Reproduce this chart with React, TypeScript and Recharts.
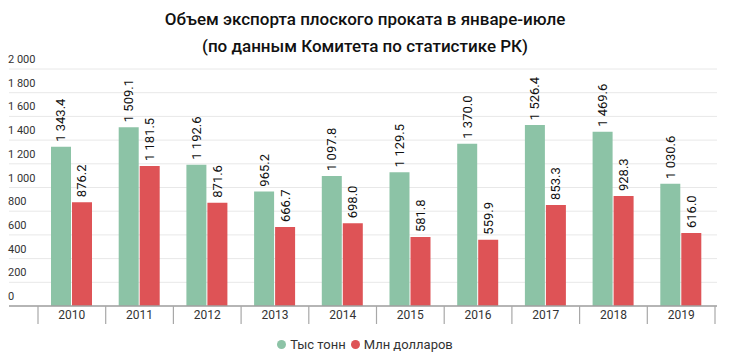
import React from 'react';
import { BarChart, Bar, XAxis, YAxis, CartesianGrid, LabelList } from 'recharts';

const years = ['2010', '2011', '2012', '2013', '2014', '2015', '2016', '2017', '2018', '2019'];
const thousandTonnes = [1343.4, 1509.1, 1192.6, 965.2, 1097.8, 1129.5, 1370.0, 1526.4, 1469.6, 1030.6];
const millionUsd = [876.2, 1181.5, 871.6, 666.7, 698.0, 581.8, 559.9, 853.3, 928.3, 616.0];
const yTicks = [0, 200, 400, 600, 800, 1000, 1200, 1400, 1600, 1800, 2000];
const seriesNames = ['Тыс тонн', 'Млн долларов'];
const titleLines = ['Объем экспорта плоского проката в январе-июле', '(по данным Комитета по статистике РК)'];

const GREEN = '#8cc3a6';
const RED = '#de5356';
const FONT = 'Roboto, "Noto Sans", sans-serif';

const data = years.map((y, i) => ({ year: y, t: thousandTonnes[i], m: millionUsd[i] }));

const fmtInt = (v: number) => String(v).replace(/\B(?=(\d{3})+(?!\d))/g, ' ');
const fmtVal = (v: number) => {
  const [a, b] = v.toFixed(1).split('.');
  return fmtInt(Number(a)) + '.' + b;
};

const YTick = (props: any) => {
  const { y, payload } = props;
  return (
    <text x={8} y={y - 6} textAnchor="start" fontSize={11} fill="#333" fontFamily={FONT}>
      {fmtInt(payload.value)}
    </text>
  );
};

const XTick = (props: any) => {
  const { x, y, payload, index, visibleTicksCount } = props;
  const half = payload.offset || 0;
  const isLast = index === (visibleTicksCount ?? years.length) - 1;
  return (
    <g>
      <line x1={x - half} x2={x - half} y1={y} y2={y + 18} stroke="#a8a8a8" strokeWidth={1.2} />
      {isLast && <line x1={x + half} x2={x + half} y1={y} y2={y + 18} stroke="#a8a8a8" strokeWidth={1.2} />}
      <text x={x} y={y + 13} textAnchor="middle" fontSize={12} fill="#333" fontFamily={FONT}>
        {payload.value}
      </text>
    </g>
  );
};

const BarLabel = (props: any) => {
  const { x, y, width, value } = props;
  const cx = x + width / 2;
  const ty = y - 5;
  return (
    <text
      x={cx}
      y={ty}
      transform={`rotate(-90 ${cx} ${ty})`}
      textAnchor="start"
      dominantBaseline="central"
      fontSize={13}
      fill="#111"
      fontFamily={FONT}
    >
      {fmtVal(value)}
    </text>
  );
};

export default function App() {
  return (
    <div style={{ position: 'absolute', left: 0, top: 0, width: 730, height: 359, background: '#fff' }}>
      <div
        style={{
          position: 'absolute',
          left: 0,
          top: 6,
          width: 730,
          textAlign: 'center',
          fontFamily: FONT,
          fontWeight: 500,
          fontSize: 17,
          lineHeight: '27px',
          color: '#111',
        }}
      >
        {titleLines.map((l, i) => (
          <div key={i}>{l}</div>
        ))}
      </div>
      <div style={{ position: 'absolute', left: 0, top: 0 }}>
        <BarChart
          width={730}
          height={359}
          data={data}
          margin={{ top: 69, right: 13, left: 8, bottom: 33 }}
          barSize={20}
          barGap={1}
        >
          <CartesianGrid horizontal vertical={false} stroke="#e8e8e8" />
          <YAxis
            width={1}
            domain={[0, 2000]}
            ticks={yTicks}
            axisLine={false}
            tickLine={false}
            tick={<YTick />}
            interval={0}
          />
          <XAxis
            dataKey="year"
            height={20}
            axisLine={{ stroke: '#a0a0a0', strokeWidth: 1.5 }}
            tickLine={false}
            tickSize={0}
            tickMargin={0}
            padding={{ left: 29, right: 2 }}
            tick={<XTick />}
            interval={0}
          />
          <Bar dataKey="t" name={seriesNames[0]} fill={GREEN} isAnimationActive={false}>
            <LabelList dataKey="t" content={<BarLabel />} />
          </Bar>
          <Bar dataKey="m" name={seriesNames[1]} fill={RED} isAnimationActive={false}>
            <LabelList dataKey="m" content={<BarLabel />} />
          </Bar>
        </BarChart>
      </div>
      <div
        style={{
          position: 'absolute',
          left: 0,
          top: 337,
          width: 730,
          display: 'flex',
          justifyContent: 'center',
          alignItems: 'center',
          fontFamily: FONT,
          fontSize: 13,
          color: '#333',
        }}
      >
        {[GREEN, RED].map((c, i) => (
          <span key={i} style={{ display: 'inline-flex', alignItems: 'center', marginRight: i === 0 ? 5 : 0 }}>
            <span style={{ width: 9, height: 9, borderRadius: '50%', background: c, display: 'inline-block', marginRight: 4 }} />
            {seriesNames[i]}
          </span>
        ))}
      </div>
    </div>
  );
}
